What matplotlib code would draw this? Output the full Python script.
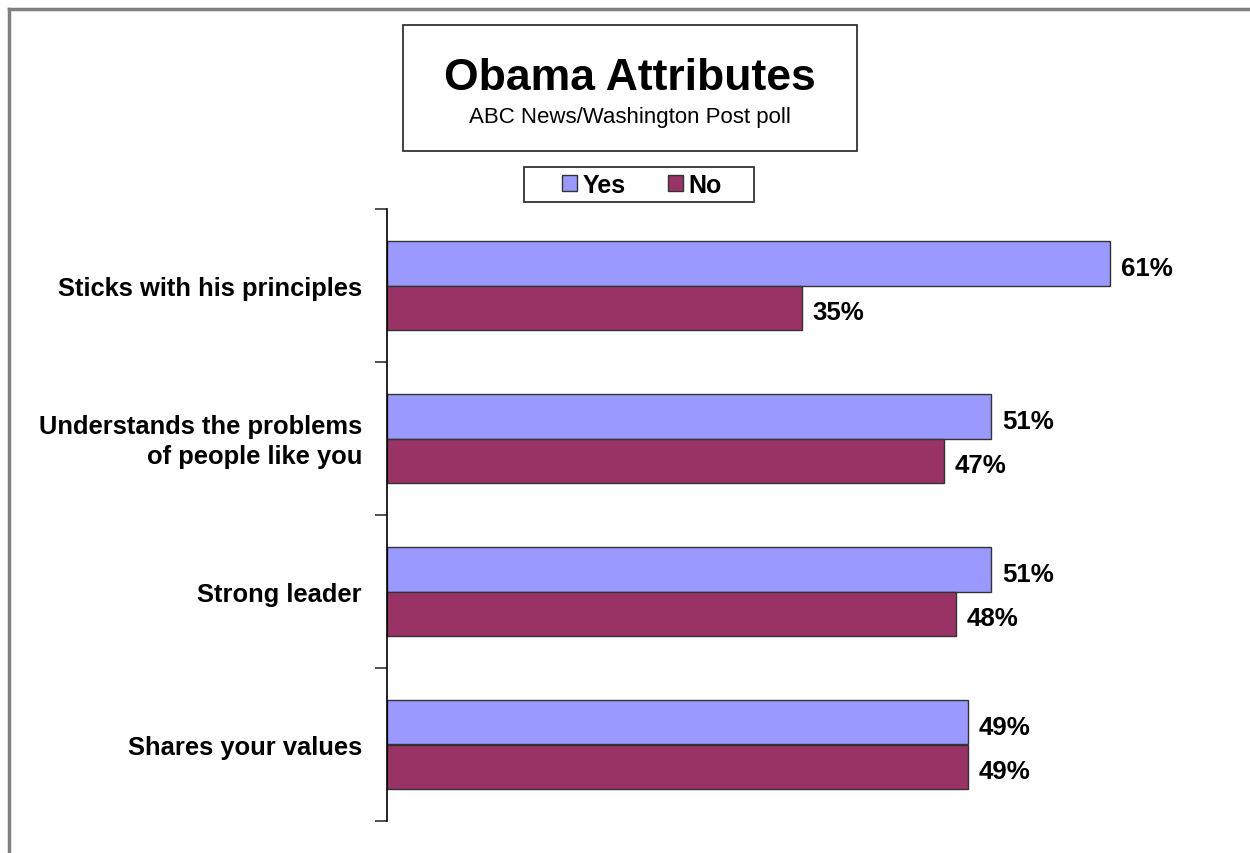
import matplotlib.pyplot as plt
from matplotlib.lines import Line2D
from matplotlib.patches import Rectangle, Patch
from matplotlib.transforms import ScaledTranslation

plt.rcParams['font.family'] = ['Liberation Sans', 'DejaVu Sans']

# Data
categories = ["Sticks with his principles",
              "Understands the problems\nof people like you",
              "Strong leader",
              "Shares your values"]
yes_vals = [61, 51, 51, 49]
no_vals = [35, 47, 48, 49]
series_names = ["Yes", "No"]

yes_color = "#9999FF"
no_color = "#993366"

fig = plt.figure(figsize=(12.5, 8.54), dpi=100)

# plot area: left edge of the axis at x=387px, categories from y=210 to 822
ax = fig.add_axes([387 / 1250, 1 - 822 / 854, 823 / 1250, 612 / 854])

pos = list(range(len(categories)))
h = 0.288
ax.barh([p - h / 2 for p in pos], yes_vals, height=h, color=yes_color,
        edgecolor="#333333", linewidth=1.0, label=series_names[0])
ax.barh([p + h / 2 for p in pos], no_vals, height=h, color=no_color,
        edgecolor="#333333", linewidth=1.0, label=series_names[1])

for p, v in zip(pos, yes_vals):
    ax.text(v + 0.9, p - h / 2 + 0.03, f"{v}%", va="center", ha="left",
            fontsize=18.6, fontweight="bold")
for p, v in zip(pos, no_vals):
    ax.text(v + 0.9, p + h / 2 + 0.03, f"{v}%", va="center", ha="left",
            fontsize=18.6, fontweight="bold")

ax.set_xlim(0, 69.45)
ax.set_ylim(len(categories) - 0.5, -0.5)

ax.set_yticks(pos)
ax.set_yticklabels(categories, fontsize=18.4, fontweight="bold",
                   multialignment="right", linespacing=1.3)
ax.tick_params(axis="y", which="major", length=0, pad=18)
ax.set_yticks([p - 0.5 for p in range(len(categories) + 1)], minor=True)
ax.tick_params(axis="y", which="minor", length=9, width=1.2, color="#333333")
ax.set_xticks([])
# nudge the two-line label up a little
lbl = ax.get_yticklabels()[1]
lbl.set_transform(lbl.get_transform() + ScaledTranslation(0, 3 / 100, fig.dpi_scale_trans))

for s in ["top", "right", "bottom"]:
    ax.spines[s].set_visible(False)
ax.spines["left"].set_linewidth(1.2)

# outer chart frame (only top and left visible in the reference)
fig.add_artist(Line2D([9 / 1250, 1.0], [1 - 10 / 854, 1 - 10 / 854],
                      transform=fig.transFigure, color="#7f7f7f", linewidth=2.5))
fig.add_artist(Line2D([9 / 1250, 9 / 1250], [0, 1 - 10 / 854],
                      transform=fig.transFigure, color="#7f7f7f", linewidth=2.5))

# title box
fig.add_artist(Rectangle((403 / 1250, 1 - 152 / 854), 454 / 1250, 126 / 854,
                         transform=fig.transFigure, facecolor="white",
                         edgecolor="#333333", linewidth=1.3))
fig.text(630 / 1250, 1 - 79 / 854, "Obama Attributes", ha="center", va="center",
         fontsize=32, fontweight="bold")
fig.text(630 / 1250, 1 - 117 / 854, "ABC News/Washington Post poll",
         ha="center", va="center", fontsize=16)

# legend box
fig.add_artist(Rectangle((524 / 1250, 1 - 203 / 854), 230 / 1250, 35 / 854,
                         transform=fig.transFigure, facecolor="white",
                         edgecolor="#333333", linewidth=1.3))
handles = [Patch(facecolor=yes_color, edgecolor="#333333", linewidth=1.0),
           Patch(facecolor=no_color, edgecolor="#333333", linewidth=1.0)]
leg = fig.legend(handles, series_names, loc="center",
                 bbox_to_anchor=(642 / 1250, 1 - 186 / 854), ncol=2,
                 frameon=False, prop={"size": 18, "weight": "bold"},
                 handlelength=0.6, handleheight=0.6, handletextpad=0.2,
                 columnspacing=1.7, borderpad=0.2, borderaxespad=0)

fig.savefig("out.png", dpi=100, facecolor="white")
